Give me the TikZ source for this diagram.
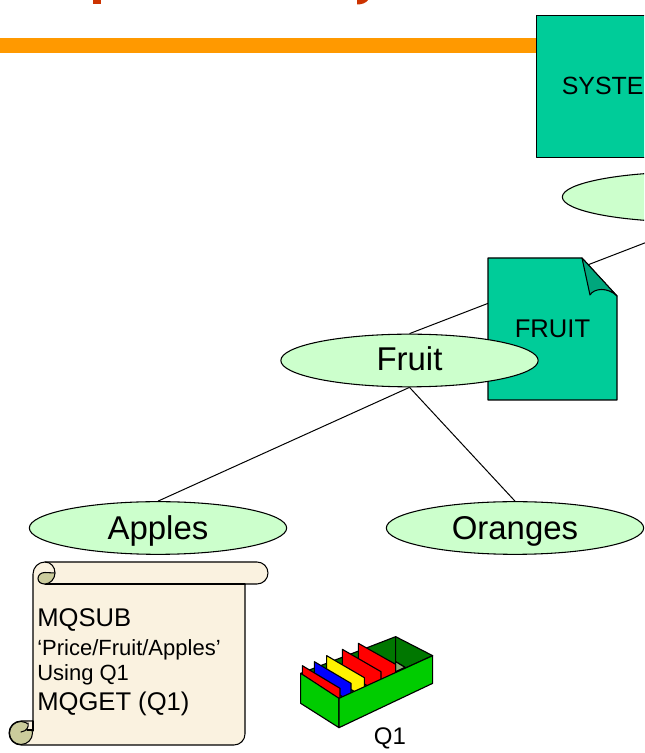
\documentclass[tikz,border=0pt]{standalone}
\usepackage{fontspec}
\setmainfont{Liberation Sans}
\usetikzlibrary{shapes.geometric,backgrounds}
\definecolor{barorange}{HTML}{FF9900}
\definecolor{titlered}{HTML}{CC3300}
\definecolor{boxgreen}{HTML}{00CC99}
\definecolor{foldgreen}{HTML}{00A77D}
\definecolor{mintgreen}{HTML}{CCFFCC}
\definecolor{parchment}{HTML}{FAF2E0}
\definecolor{curlolive}{HTML}{CBCC9C}
\definecolor{traygreen}{HTML}{00CC00}
\definecolor{traydark}{HTML}{007700}
\definecolor{trayfloor}{HTML}{8FAF78}
\tikzset{
	topicnode/.style={ellipse,draw=black,line width=0.8pt,fill=mintgreen,minimum width=193pt,minimum height=39.5pt,inner sep=0pt,text height=17pt,text depth=0pt,font=\fontsize{24.7pt}{28pt}\selectfont},
	shapeline/.style={draw=black,line width=0.8pt},
	linktext/.style={anchor=base west,inner sep=0pt},
	cardshape/.style={draw=black,line width=0.85pt}
}
\begin{document}
\begin{tikzpicture}[line cap=round,line join=round,x=0.75pt,y=0.75pt]
	\useasboundingbox (0,0) rectangle (644,753);
	\clip (0,0) rectangle (644,753);
	\fill[titlered] (93,753) rectangle (100.5,748.5);
	\fill[titlered] (357,753) -- (368,753) .. controls (366,750) and (362,748.5) .. (357,748.5) -- cycle;
	\fill[barorange] (0,714.5) rectangle (536,700);
	\node (systembox) [shapeline,fill=boxgreen,anchor=north west,minimum width=210pt,minimum height=106.5pt] at (536,738) {};
	\node (systemtext) [inner sep=0pt,anchor=west,font=\fontsize{18.7pt}{23pt}\selectfont] at (561.5,667) {SYSTE};
	\draw[shapeline,fill=boxgreen] (488,495) -- (582,495) -- (617,457) -- (617,353) -- (488,353) -- cycle;
	\draw[shapeline,fill=foldgreen] (582,495) -- (590,458) .. controls (594,465) and (608,466) .. (617,457) -- cycle;
	\node (fruitdoc) [inner sep=0pt,font=\fontsize{19.2pt}{23pt}\selectfont] at (552.5,424) {FRUIT};
	\node (pricenode) [topicnode,minimum height=37.5pt] at (691,556) {};
	\node (fruitnode) [topicnode,text height=15.5pt] at (409.5,392.5) {Fruit};
	\node (applesnode) [topicnode] at (158,225) {Apples};
	\node (orangesnode) [topicnode] at (515,225) {Oranges};
	\begin{pgfonlayer}{background}
		\draw[line width=0.75pt] (fruitnode.north) -- (pricenode.285);
		\draw[line width=0.75pt] (fruitnode.south) -- (applesnode.north);
		\draw[line width=0.75pt] (fruitnode.south) -- (orangesnode.north);
	\end{pgfonlayer}
	\draw[shapeline,fill=parchment] (33,179) arc (180:90:12) -- (257,191) arc (90:-90:11) -- (245,169) -- (245,19) arc (0:-90:11) -- (21,8) arc (270:180:12) arc (180:90:12) -- (33,32) -- cycle;
	\draw[shapeline] (45,169) -- (245,169);
	\draw[shapeline] (45,191) .. controls (51,191) and (55,186) .. (55,180);
	\draw[shapeline,fill=curlolive] (55,180) .. controls (55,174) and (50,169) .. (45,169) .. controls (41,169) and (38,171) .. (38,174.5) .. controls (38,178) and (41,180.5) .. (45,180.5) -- cycle;
	\draw[shapeline,fill=curlolive] (21,31.5) arc (90:450:11.5);
	\fill[parchment] (28,31) -- (33,31) -- (33,23) -- (27,23) -- cycle;
	\draw[shapeline] (33,32) -- (33,22);
	\draw[shapeline] (28,30) .. controls (29,26) and (27,22) .. (21,21);
	\draw[shapeline] (27,23) -- (33,23);
	\node (mqsubtext) [linktext,font=\fontsize{19.2pt}{23pt}\selectfont] at (37,126) {MQSUB};
	\node (pricetext) [linktext,font=\fontsize{16.5pt}{20pt}\selectfont] at (37,97.5) {‘Price/Fruit/Apples’};
	\node (usingtext) [linktext,font=\fontsize{16.5pt}{20pt}\selectfont] at (37,72.3) {Using Q1};
	\node (mqgettext) [linktext,font=\fontsize{19.2pt}{23pt}\selectfont] at (37,42.3) {MQGET (Q1)};
	\begin{scope}[shift={(295,123)},x=0.25pt,y=-0.25pt]
		\draw[cardshape,fill=traydark] (17,130) -- (302,20) -- (413,77) -- (132,205) -- cycle;
		\draw[cardshape] (302,20) -- (302,95) -- (330,112);
		\draw[cardshape,fill=trayfloor] (302,95) -- (330,112) -- (302,125) -- cycle;
		\draw[cardshape,fill=red] (190,40) -- (302,103) -- (302,170) -- (190,110) -- cycle;
		\draw[cardshape,fill=red] (142,58) -- (258,125) -- (258,190) -- (142,125) -- cycle;
		\draw[cardshape,fill=yellow] (95,77) -- (208,143) -- (208,200) -- (95,140) -- cycle;
		\draw[cardshape,fill=blue] (58,95) -- (168,160) -- (168,215) -- (58,150) -- cycle;
		\draw[cardshape,fill=red] (22,107) -- (135,175) -- (135,210) -- (22,135) -- cycle;
		\draw[cardshape,fill=traygreen] (17,130) -- (132,205) -- (132,293) -- (17,220) -- cycle;
		\draw[cardshape,fill=traygreen] (132,205) -- (413,77) -- (413,160) -- (132,293) -- cycle;
	\end{scope}
	\node (queuetext) [inner sep=0pt,anchor=base,font=\fontsize{18pt}{22pt}\selectfont] at (390,8) {Q1};
\end{tikzpicture}
\end{document}
